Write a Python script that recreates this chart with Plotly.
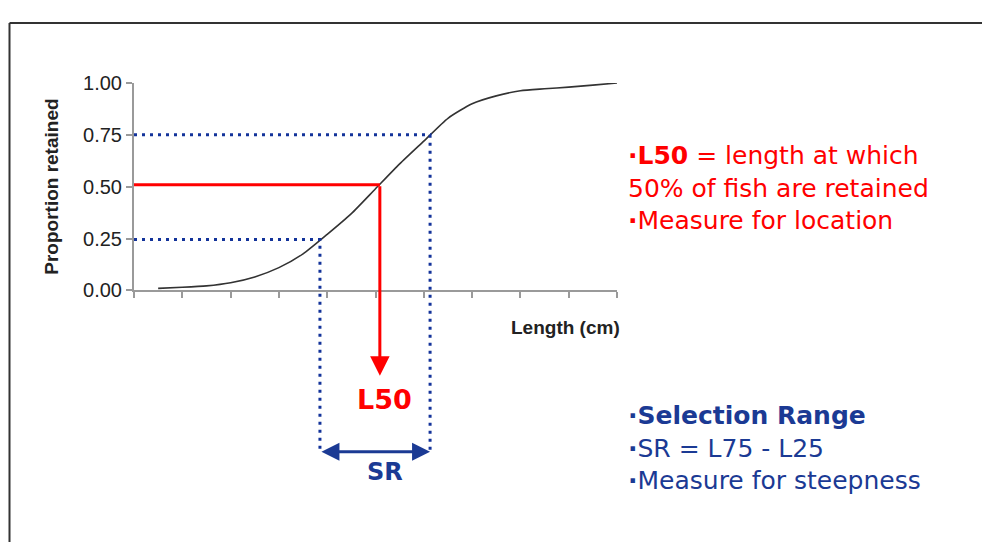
import plotly.graph_objects as go

# ---- data ----
length_units = [0.5, 1.0, 1.5, 2.0, 2.5, 3.0, 3.5, 4.0, 4.5, 5.0,
                5.5, 6.0, 6.5, 7.0, 7.5, 8.0, 8.5, 9.0, 9.5, 10.0]
proportion = [0.010, 0.015, 0.022, 0.037, 0.065, 0.110, 0.176, 0.270, 0.370, 0.490,
              0.610, 0.720, 0.830, 0.900, 0.938, 0.963, 0.972, 0.980, 0.990, 1.000]
x_ticks = [0, 1, 2, 3, 4, 5, 6, 7, 8, 9, 10]
y_tick_vals = [0.0, 0.25, 0.5, 0.75, 1.0]
y_tick_text = ["0.00", "0.25", "0.50", "0.75", "1.00"]
L25, L50, L75 = 3.85, 5.09, 6.13
P25, P50, P75 = 0.245, 0.51, 0.75
arrow_l50_end = -0.412   # tip of the L50 arrow (below axis)
sr_level = -0.778        # level of the SR double arrow

W, H = 982, 553
# pixel geometry of the main plot
X0_PX, X1_PX = 134, 617
Y0_PX, Y1_PX = 291, 75   # y=0 and y=1 from top
xmin, xmax = 0, 10
ymin, ymax = 0, 1
ppx = (X1_PX - X0_PX) / (xmax - xmin)
ppy = (Y0_PX - Y1_PX) / (ymax - ymin)

RED = "#ff0000"
BLUE = "#1b3a94"
DOTBLUE = "#13339a"
FONT_TXT = "DejaVu Sans"
BUL = "<b>·</b>"

fig = go.Figure()

# selection curve on main axes
fig.add_trace(go.Scatter(x=length_units, y=proportion, mode="lines",
                         line=dict(color="#333333", width=1.6, shape="spline", smoothing=0.6),
                         xaxis="x", yaxis="y", hoverinfo="skip", showlegend=False))

# overlay (full canvas) axes, same data units
fig.add_trace(go.Scatter(x=[xmin, L75, L75], y=[P75, P75, sr_level], mode="lines",
                         line=dict(color=DOTBLUE, width=3, dash="3px,5px"),
                         xaxis="x2", yaxis="y2", hoverinfo="skip", showlegend=False))
fig.add_trace(go.Scatter(x=[xmin, L25, L25], y=[P25, P25, sr_level], mode="lines",
                         line=dict(color=DOTBLUE, width=3, dash="3px,5px"),
                         xaxis="x2", yaxis="y2", hoverinfo="skip", showlegend=False))
fig.add_trace(go.Scatter(x=[xmin, L50], y=[P50, P50], mode="lines",
                         line=dict(color=RED, width=3),
                         xaxis="x2", yaxis="y2", hoverinfo="skip", showlegend=False))

annotations = [
    dict(x=L50, y=arrow_l50_end, ax=L50, ay=P50, xref="x2", yref="y2", axref="x2", ayref="y2",
         text="", showarrow=True, arrowhead=2, arrowsize=1.3, arrowwidth=3, arrowcolor=RED),
    dict(x=L75, y=sr_level, ax=L25, ay=sr_level, xref="x2", yref="y2", axref="x2", ayref="y2",
         text="", showarrow=True, arrowhead=2, startarrowhead=2, arrowside="end+start",
         arrowsize=1.2, startarrowsize=1.2, arrowwidth=3, arrowcolor=BLUE),
    dict(x=L50 + 0.1, y=-0.525, xref="x2", yref="y2", text="<b>L50</b>", showarrow=False,
         font=dict(family=FONT_TXT, size=27, color=RED)),
    dict(x=L50 + 0.1, y=-0.875, xref="x2", yref="y2", text="<b>SR</b>", showarrow=False,
         font=dict(family=FONT_TXT, size=24, color=BLUE)),
    dict(x=622 / W, y=1 - 330 / H, xref="paper", yref="paper", text="<b>Length (cm)</b>",
         showarrow=False, xanchor="right", yanchor="middle",
         font=dict(family="Arial, Liberation Sans", size=19, color="#222222")),
    dict(x=52 / W, y=1 - 183 / H, xref="paper", yref="paper", text="<b>Proportion retained</b>",
         showarrow=False, textangle=-90, xanchor="center", yanchor="middle",
         font=dict(family="Arial, Liberation Sans", size=19, color="#222222")),
    dict(x=626 / W, y=1 - 184 / H, xref="paper", yref="paper", align="left",
         xanchor="left", yanchor="middle", showarrow=False,
         text=BUL + "<b>L50</b> = length at which<br>50% of fish are retained<br>"
              + BUL + "Measure for location",
         font=dict(family=FONT_TXT, size=25, color=RED)),
    dict(x=626 / W, y=1 - 455 / H, xref="paper", yref="paper", align="left",
         xanchor="left", yanchor="middle", showarrow=False,
         text=BUL + "<b>Selection Range</b><br>" + BUL + "SR = L75 - L25<br>"
              + BUL + "Measure for steepness",
         font=dict(family=FONT_TXT, size=25, color=BLUE)),
]

shapes = [
    dict(type="line", xref="paper", yref="paper", x0=9.5 / W, x1=1.0, y0=1 - 12.5 / H, y1=1 - 12.5 / H,
         line=dict(color="#333333", width=2)),
    dict(type="line", xref="paper", yref="paper", x0=9.5 / W, x1=9.5 / W, y0=1 - 12.5 / H, y1=0,
         line=dict(color="#333333", width=2)),
]

fig.update_layout(
    width=W, height=H, margin=dict(l=0, r=0, t=0, b=0),
    paper_bgcolor="white", plot_bgcolor="rgba(0,0,0,0)",
    showlegend=False,
    xaxis=dict(domain=[X0_PX / W, X1_PX / W], range=[xmin, xmax], anchor="y",
               tickmode="array", tickvals=x_ticks, showticklabels=False,
               ticks="outside", ticklen=6, tickwidth=1.5, tickcolor="#9a9a9a",
               showline=True, linecolor="#9a9a9a", linewidth=2,
               showgrid=False, zeroline=False, fixedrange=True),
    yaxis=dict(domain=[1 - Y0_PX / H, 1 - Y1_PX / H], range=[ymin, ymax], anchor="x",
               tickmode="array", tickvals=y_tick_vals, ticktext=y_tick_text,
               ticks="outside", ticklen=6, tickwidth=1.5, tickcolor="#9a9a9a",
               showline=True, linecolor="#9a9a9a", linewidth=2,
               tickfont=dict(family="Arial, Liberation Sans", size=20, color="#222222"),
               showgrid=False, zeroline=False, fixedrange=True),
    xaxis2=dict(domain=[0, 1], anchor="y2", visible=False, fixedrange=True,
                range=[xmin - X0_PX / ppx, xmin + (W - X0_PX) / ppx]),
    yaxis2=dict(domain=[0, 1], anchor="x2", visible=False, fixedrange=True,
                range=[ymin - (H - Y0_PX) / ppy, ymin + Y0_PX / ppy]),
    annotations=annotations,
    shapes=shapes,
)

fig.write_html(
    "out.html", config={"displayModeBar": False},
    post_script=("var d=document.getElementById('{plot_id}');"
                 "d.style.position='fixed';d.style.top='0px';d.style.left='0px';"
                 "document.body.style.margin='0';"
                 "document.documentElement.style.overflow='hidden';"
                 "document.body.style.overflow='hidden';"))
